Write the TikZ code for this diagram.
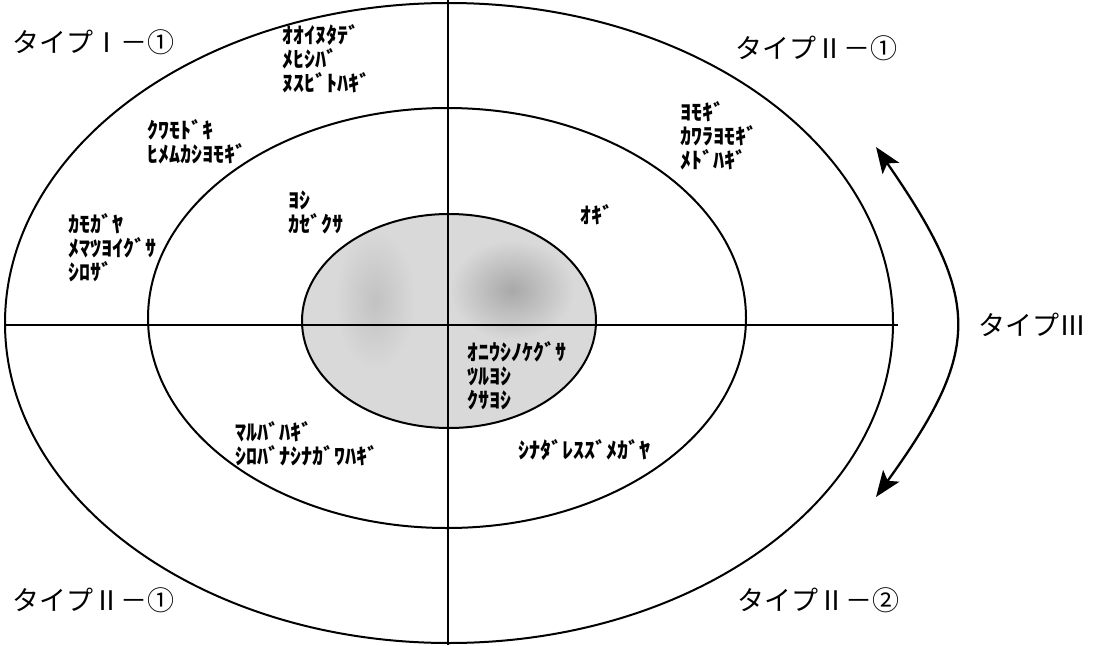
\documentclass[tikz,border=0pt]{standalone}
\usepackage{fontspec}
\newfontfamily\jp{Noto Sans CJK JP}
\usetikzlibrary{arrows.meta}
\tikzset{
  ring/.style={draw=black, line width=2pt},
  axis/.style={draw=black, line width=1.3pt},
  typelbl/.style={anchor=west, inner sep=0pt, font=\jp\fontsize{27}{29}\selectfont},
  plant/.style={anchor=north west, inner sep=0pt, align=left, font=\jp\bfseries\fontsize{22}{24}\selectfont},
  dbl/.style={line width=2.3pt, {Stealth[length=26pt,width=20pt,inset=6pt]}-{Stealth[length=26pt,width=20pt,inset=6pt]}}
}
\begin{document}
\begin{tikzpicture}[x=1pt,y=-1pt]
\useasboundingbox (0,0) rectangle (1094,645);
\fill[white] (0,0) rectangle (1094,645);
% rings
\path[ring] (449,323) ellipse [x radius=444pt, y radius=320pt];
\path[ring] (447,318) ellipse [x radius=299pt, y radius=210pt];
\fill[black!15] (449,321) ellipse [x radius=147pt, y radius=107pt];
\shade[inner color=black!34, outer color=black!15] (512,290) ellipse [x radius=62pt, y radius=50pt];
\shade[inner color=black!24, outer color=black!15] (375,300) ellipse [x radius=40pt, y radius=70pt];
\path[ring] (449,321) ellipse [x radius=147pt, y radius=107pt];
% axes
\coordinate (hl) at (5,325);
\coordinate (hr) at (898,325);
\coordinate (vt) at (448,0);
\coordinate (vb) at (448,645);
\draw[axis] (hl) -- (hr);
\draw[axis] (vt) -- (vb);
% type labels
\node[typelbl] (t1) at (12,42) {タイプⅠ－①};
\node[typelbl] (t2) at (735,48) {タイプⅡ－①};
\node[typelbl] (t3) at (978,325) {タイプⅢ};
\node[typelbl] (t4) at (12,600) {タイプⅡ－①};
\node[typelbl] (t5) at (737,600) {タイプⅡ－②};
% arrow
\coordinate (atop) at (876,147);
\coordinate (abot) at (876,497);
\draw[dbl] (atop) .. controls (982,300) and (982,350) .. (abot);
% plant names
\node[plant] (p1) at (282,24) {ｵｵｲﾇﾀﾃﾞ\\ﾒﾋｼﾊﾞ\\ﾇｽﾋﾞﾄﾊｷﾞ};
\node[plant] (p2) at (147,119) {ｸﾜﾓﾄﾞｷ\\ﾋﾒﾑｶｼﾖﾓｷﾞ};
\node[plant] (p3) at (68,213) {ｶﾓｶﾞﾔ\\ﾒﾏﾂﾖｲｸﾞｻ\\ｼﾛｻﾞ};
\node[plant] (p4) at (288,191) {ﾖｼ\\ｶｾﾞｸｻ};
\node[plant] (p5) at (580,204) {ｵｷﾞ};
\node[plant] (p6) at (680,101) {ﾖﾓｷﾞ\\ｶﾜﾗﾖﾓｷﾞ\\ﾒﾄﾞﾊｷﾞ};
\node[plant] (p7) at (467,341) {ｵﾆｳｼﾉｹｸﾞｻ\\ﾂﾙﾖｼ\\ｸｻﾖｼ};
\node[plant] (p8) at (518,439) {ｼﾅﾀﾞﾚｽｽﾞﾒｶﾞﾔ};
\node[plant] (p9) at (235,421) {ﾏﾙﾊﾞﾊｷﾞ\\ｼﾛﾊﾞﾅｼﾅｶﾞﾜﾊｷﾞ};
\end{tikzpicture}
\end{document}
